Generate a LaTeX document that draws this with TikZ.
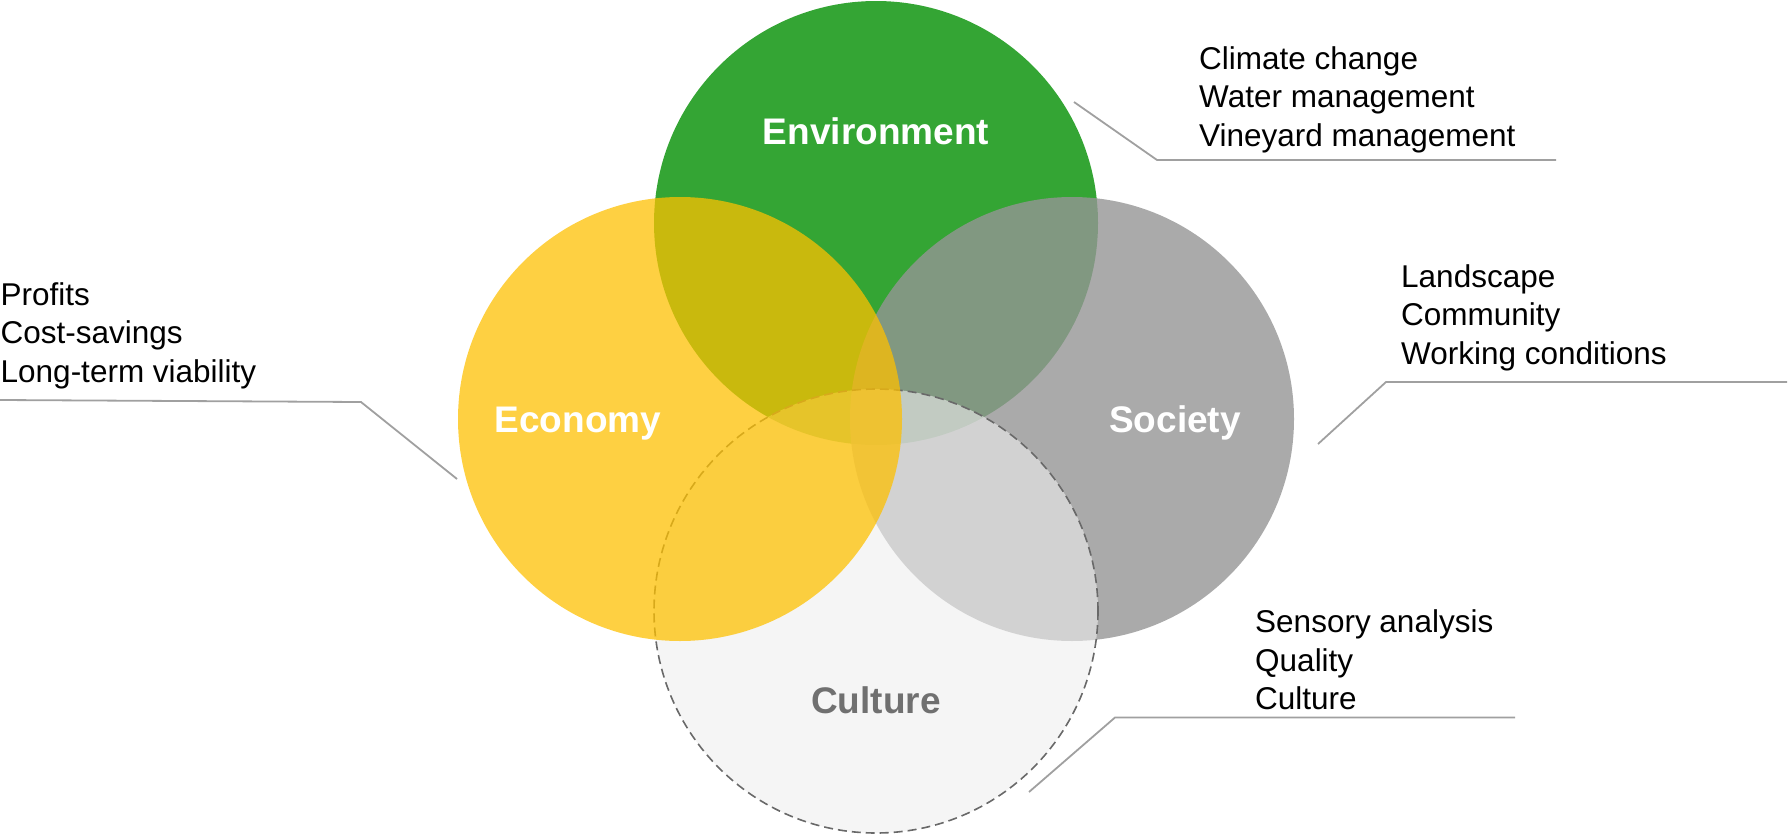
\documentclass[tikz,border=0pt]{standalone}
\usepackage{fontspec}
\setmainfont{Liberation Sans}
\definecolor{envgreen}{RGB}{52,165,52}
\definecolor{ecoyellow}{RGB}{254,192,0}
\definecolor{socgray}{RGB}{149,149,149}
\definecolor{culfill}{RGB}{238,238,238}
\definecolor{culborder}{RGB}{105,105,105}
\definecolor{leader}{RGB}{160,160,160}
\definecolor{cultext}{RGB}{112,112,112}
\begin{document}
\begin{tikzpicture}[x=1pt,y=-1pt,
  venn/.style={circle, minimum size=444pt, inner sep=0pt, outer sep=0pt},
  title/.style={font=\fontsize{37}{44}\selectfont\bfseries, text=white, anchor=base, inner sep=0pt},
  items/.style={font=\fontsize{31.5}{38.5}\selectfont, align=left, anchor=north west, inner sep=0pt, text=black},
  leaderline/.style={draw=leader, line width=1.8pt}]
\useasboundingbox (0,0) rectangle (1788,835);
% circles
\node[venn, fill=envgreen] (env) at (876,223) {};
\node[venn, fill=socgray, fill opacity=0.8] (soc) at (1072,419) {};
\node[venn, fill=culfill, fill opacity=0.6, draw=culborder, draw opacity=1, line width=1.6pt, dash pattern=on 9pt off 5pt] (cul) at (876,611) {};
\node[venn, fill=ecoyellow, fill opacity=0.74] (eco) at (680,419) {};
% titles
\node[title] (envlabel) at (876,144) {Environment};
\node[title] (ecolabel) at (578,432) {Economy};
\node[title] (soclabel) at (1175,432) {Society};
\node[title, text=cultext] (cullabel) at (876,713) {Culture};
% item lists
\node[items] (envtxt) at (1199,46) {Climate change\\Water management\\Vineyard management};
\node[items] (ecotxt) at (0.5,282) {Profits\\Cost-savings\\Long-term viability};
\node[items] (soctxt) at (1401,264) {Landscape\\Community\\Working conditions};
\node[items] (cultxt) at (1255,609.5) {Sensory analysis\\Quality\\Culture};
% leader lines
\coordinate (envA) at (1074,102);
\coordinate (envB) at (1157,160);
\coordinate (envC) at (1556,160);
\coordinate (ecoA) at (457,479);
\coordinate (ecoB) at (361,402);
\coordinate (ecoC) at (0,400);
\coordinate (socA) at (1318,444);
\coordinate (socB) at (1386,382);
\coordinate (socC) at (1787,382);
\coordinate (culA) at (1029,792);
\coordinate (culB) at (1115,717.5);
\coordinate (culC) at (1515,717.5);
\draw[leaderline] (envA) -- (envB) -- (envC);
\draw[leaderline] (ecoA) -- (ecoB) -- (ecoC);
\draw[leaderline] (socA) -- (socB) -- (socC);
\draw[leaderline] (culA) -- (culB) -- (culC);
\end{tikzpicture}
\end{document}
